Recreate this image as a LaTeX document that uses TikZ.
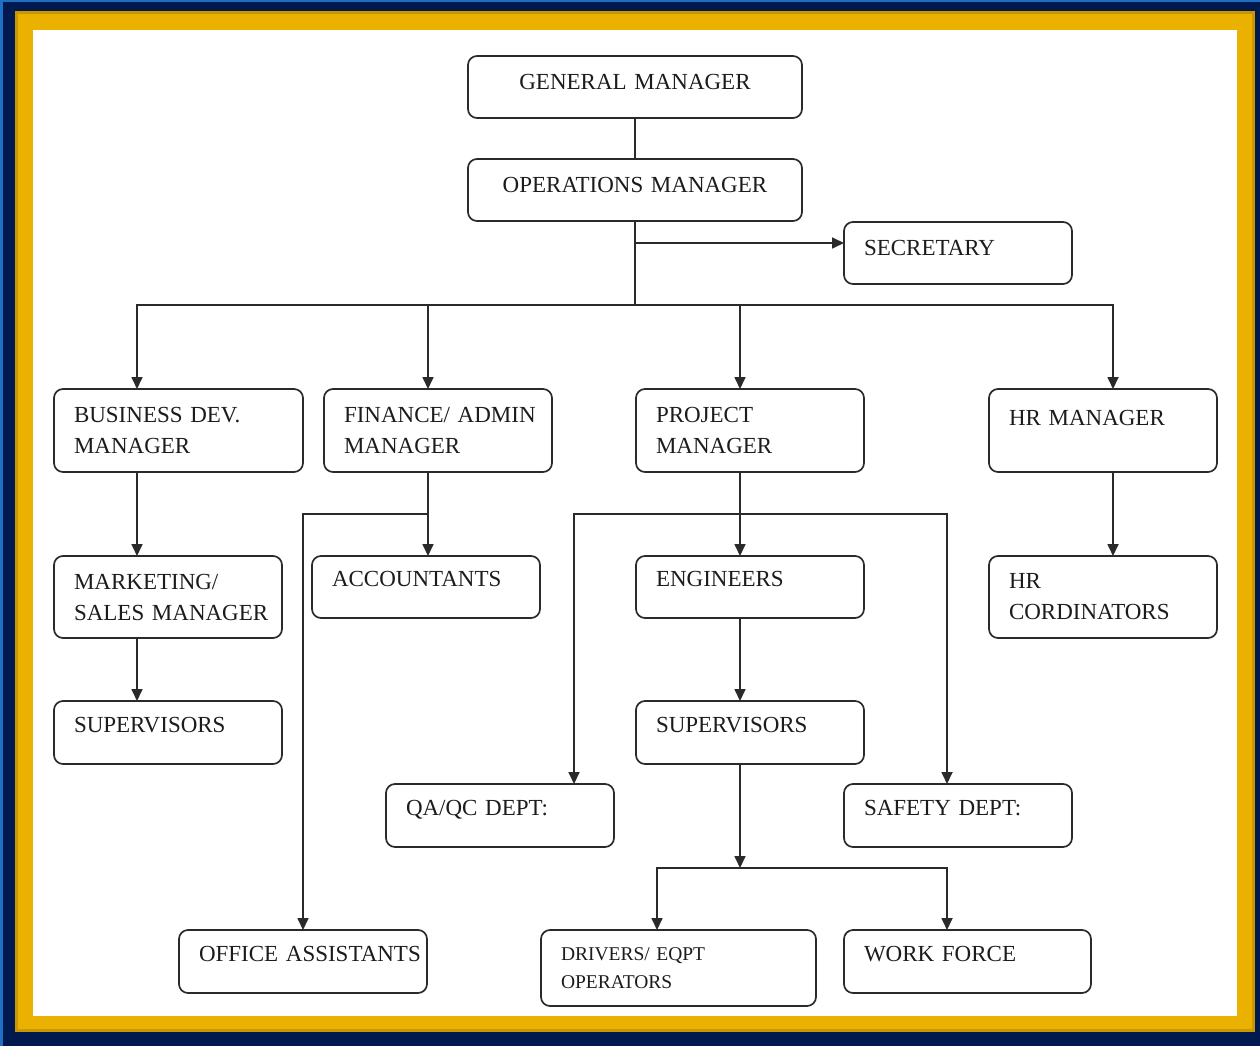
\documentclass[tikz,border=0pt]{standalone}
\usepackage{fontspec}
\setmainfont{Liberation Serif}
\usetikzlibrary{arrows.meta}
\definecolor{navy}{HTML}{001A4F}
\definecolor{gold}{HTML}{EBB100}
\definecolor{golddk}{HTML}{C99700}
\definecolor{edgeblue}{HTML}{1F6FC5}
\definecolor{linec}{HTML}{2A2A2A}
\definecolor{txt}{HTML}{1C1C1C}
\hbadness=10000\relax
\hfuzz=100pt\relax
\hyphenpenalty=10000\relax
\exhyphenpenalty=10000\relax
\begin{document}
\begin{tikzpicture}[x=1pt,y=-1pt,
  box/.style={draw=linec, line width=1.7pt, rounded corners=9pt, fill=white,
    anchor=north west, inner xsep=20pt, inner ysep=0pt, outer sep=0pt, align=left, text=txt,
    font=\fontsize{23}{31}\selectfont},
  one/.style={text height=16pt, text depth=16.4pt},
  hi/.style={text height=16pt, text depth=10.8pt},
  conn/.style={draw=linec, line width=1.7pt},
  arr/.style={conn, -{Triangle[length=12pt,width=11pt]}},
]
\useasboundingbox (0,0) rectangle (1260,1046);
% frame
\fill[edgeblue] (0,0) rectangle (1260,1046);
\fill[navy] (2.5,2.5) rectangle (1260,1046);
\fill[gold] (15,11) rectangle (1255,1032);
\draw[golddk, line width=3pt] (16.5,12.5) rectangle (1253.5,1030.5);
\fill[white] (33,30) rectangle (1237,1016);

% boxes
\node[box, hi, align=center, minimum width=334pt, minimum height=62pt, text width=294pt] (gm) at (468,56) {GENERAL MANAGER};
\node[box, hi, align=center, minimum width=334pt, minimum height=62pt, text width=294pt] (om) at (468,159) {OPERATIONS MANAGER};
\node[box, hi, minimum width=228pt, minimum height=62pt, text width=188pt] (sec) at (844,222) {SECRETARY};

\node[box, minimum width=249pt, minimum height=83pt, text width=209pt] (bd) at (54,389) {\mbox{BUSINESS DEV.}\\MANAGER};
\node[box, minimum width=228pt, minimum height=83pt, text width=188pt] (fa) at (324,389) {\mbox{FINANCE/ ADMIN}\\MANAGER};
\node[box, minimum width=228pt, minimum height=83pt, text width=188pt] (pm) at (636,389) {PROJECT\\MANAGER};
\node[box, text height=16pt, text depth=25.8pt, minimum width=228pt, minimum height=83pt, text width=188pt] (hr) at (989,389) {\mbox{HR MANAGER}};

\node[box, minimum width=228pt, minimum height=82pt, text width=188pt] (ms) at (54,556) {MARKETING/\\\mbox{SALES MANAGER}};
\node[box, one, minimum width=228pt, minimum height=62pt, text width=188pt] (acc) at (312,556) {ACCOUNTANTS};
\node[box, one, minimum width=228pt, minimum height=62pt, text width=188pt] (eng) at (636,556) {ENGINEERS};
\node[box, minimum width=228pt, minimum height=82pt, text width=188pt] (hrc) at (989,556) {HR\\CORDINATORS};

\node[box, one, minimum width=228pt, minimum height=63pt, text width=188pt] (sup1) at (54,701) {SUPERVISORS};
\node[box, one, minimum width=228pt, minimum height=63pt, text width=188pt] (sup2) at (636,701) {SUPERVISORS};

\node[box, one, minimum width=228pt, minimum height=63pt, text width=188pt] (qa) at (386,784) {\mbox{QA/QC DEPT:}};
\node[box, one, minimum width=228pt, minimum height=63pt, text width=188pt] (saf) at (844,784) {\mbox{SAFETY DEPT:}};

\node[box, one, minimum width=248pt, minimum height=63pt, text width=208pt] (oa) at (179,930) {\mbox{OFFICE ASSISTANTS}};
\node[box, font=\fontsize{19.5}{28}\selectfont, minimum width=275pt, minimum height=76pt, text width=235pt] (drv) at (541,930) {\mbox{DRIVERS/ EQPT}\\OPERATORS};
\node[box, one, minimum width=247pt, minimum height=63pt, text width=207pt] (wf) at (844,930) {\mbox{WORK FORCE}};

% junction coordinates
\coordinate (bus) at (635,305);
\coordinate (secin) at (844,243);
\coordinate (bdin) at (137,389);
\coordinate (fain) at (428,389);
\coordinate (pmin) at (740,389);
\coordinate (hrin) at (1113,389);
\coordinate (fj) at (428,514);
\coordinate (pj) at (740,514);
\coordinate (qain) at (574,784);
\coordinate (safin) at (947,784);
\coordinate (wj) at (740,868);
\coordinate (drvin) at (657,930);
\coordinate (wfin) at (947,930);

% connectors
\draw[conn] (gm) -- (om);
\draw[conn] (om.south) -- (bus);
\draw[arr] (om.south |- secin) -- (secin);
\draw[arr] (bus) -| (bdin);
\draw[arr] (bus) -| (fain);
\draw[arr] (bus) -| (pmin);
\draw[arr] (bus) -| (hrin);

\draw[arr] (bdin |- bd.south) -- (bdin |- ms.north);
\draw[arr] (bdin |- ms.south) -- (bdin |- sup1.north);

\draw[arr] (fain |- fa.south) -- (fain |- acc.north);
\draw[arr] (fj) -| (oa.north);

\draw[arr] (pmin |- pm.south) -- (pmin |- eng.north);
\draw[arr] (pj) -| (qain);
\draw[arr] (pj) -| (safin);
\draw[arr] (pmin |- eng.south) -- (pmin |- sup2.north);
\draw[arr] (pmin |- sup2.south) -- (wj);
\draw[arr] (wj) -| (drvin);
\draw[arr] (wj) -| (wfin);

\draw[arr] (hrin |- hr.south) -- (hrin |- hrc.north);
\end{tikzpicture}
\end{document}
